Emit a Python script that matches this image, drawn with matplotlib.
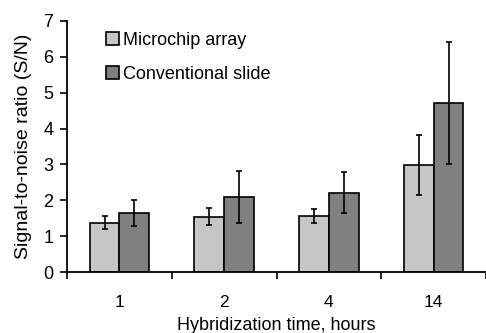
import matplotlib
matplotlib.use("Agg")
import matplotlib.pyplot as plt
import numpy as np

categories = ["1", "2", "4", "14"]
microchip = [1.38, 1.54, 1.57, 2.99]
microchip_err = [0.18, 0.24, 0.19, 0.83]
conventional = [1.65, 2.10, 2.21, 4.72]
conventional_err = [0.37, 0.73, 0.57, 1.70]
series_labels = ["Microchip array", "Conventional slide"]

plt.rcParams['font.family'] = ['Liberation Sans', 'DejaVu Sans']
plt.rcParams['font.size'] = 13

fig = plt.figure(figsize=(4.86, 3.33), dpi=100)
ax = fig.add_axes([0.138, 0.183, 1.0 - 0.138, 0.937 - 0.183])

x = np.arange(len(categories))
w = 0.285
ekw = dict(ecolor='black', elinewidth=1.2, capsize=2.2, capthick=1.2)
ax.bar(x - w / 2, microchip, w, yerr=microchip_err, color='#c6c6c6',
       edgecolor='black', linewidth=1.2, error_kw=ekw, label=series_labels[0])
ax.bar(x + w / 2, conventional, w, yerr=conventional_err, color='#808080',
       edgecolor='black', linewidth=1.2, error_kw=ekw, label=series_labels[1])

ax.set_xlim(-0.5, len(categories) - 0.5)
ax.set_ylim(0, 7)
ax.set_yticks(range(0, 8))
ax.set_xticks(x)
ax.set_xticklabels(categories)
ax.set_xticks(np.arange(-0.5, len(categories), 1.0), minor=True)
ax.tick_params(axis='x', which='major', length=0, pad=16.5, labelsize=12.5)
ax.tick_params(axis='x', which='minor', length=5, width=1.2, direction='out')
ax.tick_params(axis='y', length=5, width=1.2, direction='out', pad=5,
               labelsize=13)

for s in ['top', 'right']:
    ax.spines[s].set_visible(False)
for s in ['left', 'bottom']:
    ax.spines[s].set_linewidth(1.3)

ax.set_ylabel("Signal-to-noise ratio (S/N)", fontsize=14, labelpad=8)
ax.set_xlabel("Hybridization time, hours", labelpad=5)

leg = ax.legend(loc='upper left', bbox_to_anchor=(106 / 486, 1 - 32 / 333),
                bbox_transform=fig.transFigure, frameon=False, borderpad=0,
                borderaxespad=0, handlelength=0.72, handleheight=0.72,
                handletextpad=0.2, labelspacing=0.95)

fig.savefig("out.png", dpi=100)
